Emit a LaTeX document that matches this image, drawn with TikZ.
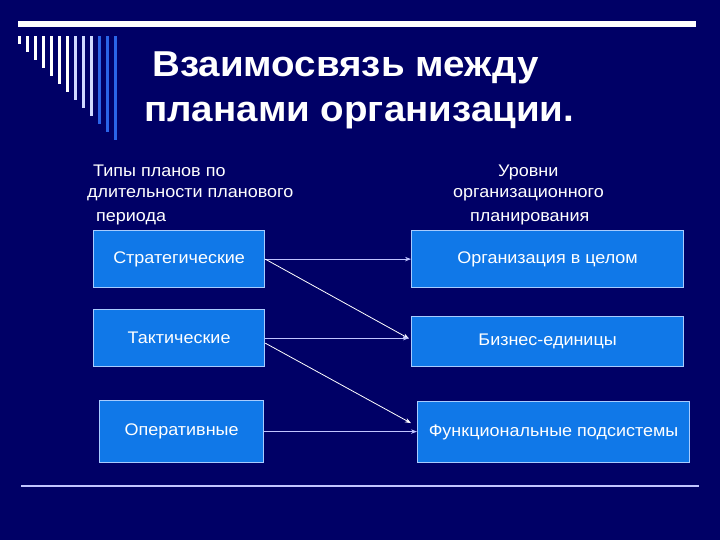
\documentclass[tikz,border=0pt]{standalone}
\usepackage{fontspec}
\setmainfont[FakeStretch=1.07]{Liberation Sans}
\usetikzlibrary{arrows.meta,calc}
\definecolor{bgnavy}{HTML}{000066}
\definecolor{boxblue}{HTML}{1078E8}
\definecolor{boxedge}{HTML}{A8CCFF}
\definecolor{lav}{HTML}{C0C4FF}
\definecolor{barlav}{HTML}{D0D8FF}
\definecolor{barblue}{HTML}{2A64E8}
\tikzset{
  planbox/.style={draw=boxedge, line width=1.2pt, fill=boxblue, text=white, font=\fontsize{16.8}{19}\selectfont, inner sep=0pt, anchor=north west},
  headtxt/.style={text=white, font=\fontsize{16.8}{19}\selectfont, inner sep=0pt, anchor=base west},
  titletxt/.style={text=white, font=\fontsize{36}{40}\selectfont\bfseries, inner sep=0pt, anchor=base west},
  link/.style={draw=lav, line width=0.9pt, -{Stealth[length=6pt,width=4.5pt]}},
  dlink/.style={draw=white, line width=0.8pt, -{Stealth[length=6pt,width=4.5pt]}},
}
\begin{document}
\begin{tikzpicture}[x=1pt,y=-1pt]
\fill[bgnavy] (0,0) rectangle (720,540);
\useasboundingbox (0,0) rectangle (720,540);
% top rule
\fill[white] (18,21) rectangle (696,27.3);
% decorative bars
\foreach \i in {0,...,12}{
  \pgfmathsetmacro{\xx}{18+8*\i}
  \pgfmathsetmacro{\yy}{44+8*\i}
  \ifnum\i<7 \def\bc{white}\else\ifnum\i<10 \def\bc{barlav}\else\def\bc{barblue}\fi\fi
  \fill[\bc] (\xx,36) rectangle (\xx+3,\yy);
}
% title
\node[titletxt] (t1) at (152,77) {Взаимосвязь между};
\node[titletxt] (t2) at (144,122) {планами организации.};
% column headings
\node[headtxt] (l1) at (93,177) {Типы планов по};
\node[headtxt] (l2) at (87,198) {длительности планового};
\node[headtxt] (l3) at (96,222) {периода};
\node[headtxt] (r1) at (498,177) {Уровни};
\node[headtxt] (r2) at (453,198) {организационного};
\node[headtxt] (r3) at (470,222) {планирования};
% boxes
\node[planbox, minimum width=171pt, minimum height=57pt] (strat) at (93,230) {Стратегические};
\node[planbox, minimum width=171pt, minimum height=57pt] (tact) at (93,309) {Тактические};
\node[planbox, minimum width=164pt, minimum height=62pt] (oper) at (99,400) {Оперативные};
\node[planbox, minimum width=272pt, minimum height=57pt] (org) at (411,230) {Организация в целом};
\node[planbox, minimum width=272pt, minimum height=50pt] (biz) at (411,316) {Бизнес-единицы};
\node[planbox, minimum width=272pt, minimum height=61pt] (func) at (417,401) {Функциональные подсистемы};
% connectors
\coordinate (bizin) at ($(biz.west)+(-2,-3)$);
\coordinate (tactd) at ($(tact.east)+(0,5)$);
\coordinate (funcin) at ($(func.west)+(-6,-9)$);
\draw[link] (strat.east) -- (strat.east -| org.west);
\draw[dlink] (strat.east) -- (bizin);
\draw[link] (tact.east) -- (tact.east -| bizin);
\draw[dlink] (tactd) -- (funcin);
\draw[link] (oper.east) -- (oper.east -| func.west);
% bottom rule
\draw[lav, line width=1.8pt] (21,486) -- (699,486);
\end{tikzpicture}
\end{document}
